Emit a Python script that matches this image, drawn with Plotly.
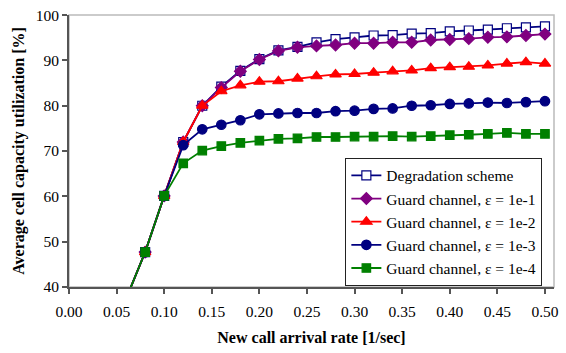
import plotly.graph_objects as go

x = [0.06, 0.08, 0.10, 0.12, 0.14, 0.16, 0.18, 0.20, 0.22, 0.24, 0.26, 0.28, 0.30,
     0.32, 0.34, 0.36, 0.38, 0.40, 0.42, 0.44, 0.46, 0.48, 0.50]

degradation = [37.4, 47.7, 60.1, 72.0, 80.0, 84.2, 87.7, 90.3, 92.2, 93.0, 94.0, 94.7, 95.1,
               95.5, 95.6, 95.9, 96.0, 96.4, 96.6, 96.8, 97.1, 97.3, 97.5]
guard_1e1 = [37.4, 47.7, 60.1, 72.0, 80.0, 84.0, 87.6, 90.2, 92.1, 92.9, 93.2, 93.4, 93.8,
             93.8, 94.0, 94.0, 94.5, 94.6, 94.8, 95.1, 95.2, 95.5, 95.8]
guard_1e2 = [37.4, 47.7, 60.1, 72.0, 80.0, 83.2, 84.5, 85.3, 85.4, 86.0, 86.5, 86.9, 87.0,
             87.3, 87.6, 87.8, 88.3, 88.5, 88.6, 88.9, 89.3, 89.6, 89.3]
guard_1e3 = [37.4, 47.7, 60.1, 71.3, 74.8, 75.8, 76.8, 78.1, 78.3, 78.4, 78.4, 78.8, 78.9,
             79.3, 79.4, 80.0, 80.1, 80.4, 80.5, 80.7, 80.6, 80.8, 81.0]
guard_1e4 = [37.4, 47.7, 60.1, 67.3, 70.1, 71.1, 71.8, 72.3, 72.7, 72.8, 73.1, 73.1, 73.2,
             73.2, 73.3, 73.2, 73.3, 73.5, 73.6, 73.8, 74.0, 73.8, 73.8]

series_names = ["Degradation scheme",
                "Guard channel, \u03b5 = 1e-1",
                "Guard channel, \u03b5 = 1e-2",
                "Guard channel, \u03b5 = 1e-3",
                "Guard channel, \u03b5 = 1e-4"]

x_ticks = [0.00, 0.05, 0.10, 0.15, 0.20, 0.25, 0.30, 0.35, 0.40, 0.45, 0.50]
y_ticks = [40, 50, 60, 70, 80, 90, 100]

styles = [
    dict(color="#000080", symbol="square", fill="white", size=9),
    dict(color="#800080", symbol="diamond", fill="#800080", size=9),
    dict(color="#FF0000", symbol="triangle-up", fill="#FF0000", size=10),
    dict(color="#000080", symbol="circle", fill="#000080", size=9.5),
    dict(color="#008000", symbol="square", fill="#008000", size=8.5),
]

font = "Liberation Serif"
fig = go.Figure()
for name, ys, st in zip(series_names, [degradation, guard_1e1, guard_1e2, guard_1e3, guard_1e4], styles):
    fig.add_trace(go.Scatter(
        x=x, y=ys, name=name, mode="lines+markers",
        line=dict(color=st["color"], width=1.8),
        marker=dict(symbol=st["symbol"], size=st["size"], color=st["fill"],
                    line=dict(color=st["color"], width=1.2)),
    ))

# light frame around plot area (top/right)
fig.add_shape(type="rect", xref="paper", yref="paper", x0=0, y0=0, x1=1, y1=1,
              line=dict(color="#bbbbbb", width=1.5), layer="below")

fig.update_layout(
    width=566, height=353,
    margin=dict(l=69, r=9, t=7, b=66),
    paper_bgcolor="white", plot_bgcolor="white",
    font=dict(family=font, size=15.5, color="black"),
    showlegend=True,
    legend=dict(x=0.976, y=0.475, xanchor="right", yanchor="top",
                bordercolor="#222222", borderwidth=1, bgcolor="white",
                font=dict(family=font, size=15.5), tracegroupgap=0,
                itemwidth=30),
    xaxis=dict(range=[0, 0.5095], tickvals=x_ticks, tickformat=".2f",
               showgrid=False, zeroline=False, showline=True,
               linecolor="#555555", linewidth=2, ticks="outside", ticklen=5,
               tickcolor="#555555", tickwidth=1.5, ticklabelstandoff=4,
               title=dict(text="<b>New call arrival rate [1/sec]</b>", font=dict(size=16), standoff=13)),
    yaxis=dict(range=[40, 100.02], tickvals=y_ticks, ticklabeloverflow="allow",
               showgrid=False, zeroline=False, showline=True,
               linecolor="#555555", linewidth=2, ticks="outside", ticklen=5,
               tickcolor="#555555", tickwidth=1.5,
               title=dict(text="<b>Average cell capacity utilization [%]</b>", font=dict(size=16), standoff=7)),
)

fig.write_html("out.html", config={"displayModeBar": False},
               post_script="document.body.style.margin='0px';document.body.style.padding='0px';")
